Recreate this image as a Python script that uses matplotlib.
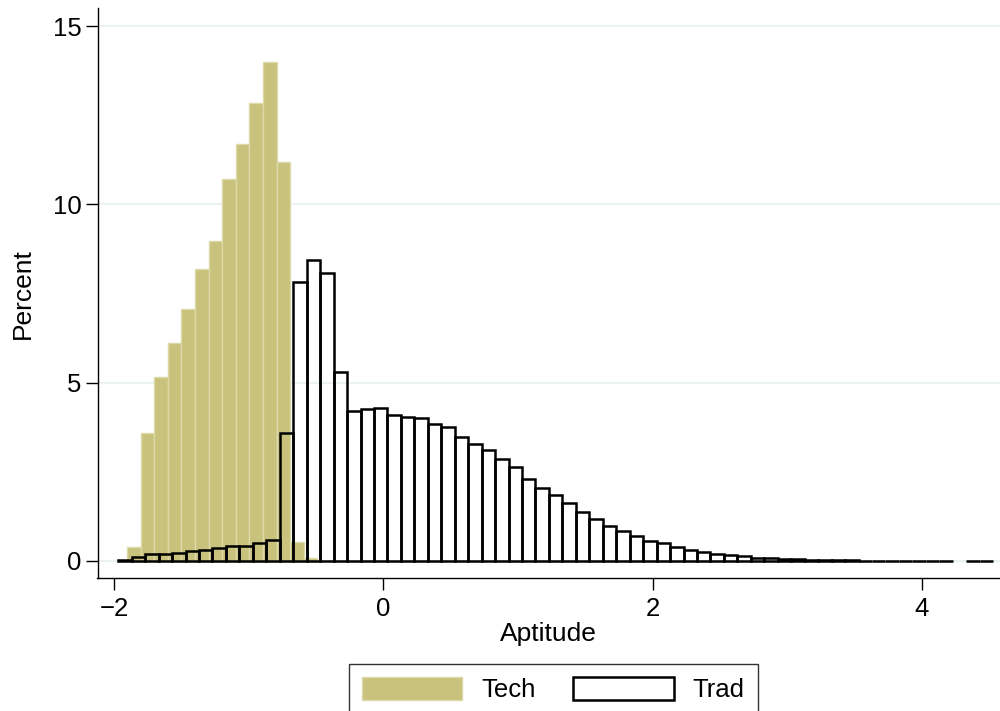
import numpy as np
import matplotlib
matplotlib.use("Agg")
import matplotlib.pyplot as plt
from matplotlib.patches import Patch

plt.rcParams['font.family'] = ['Liberation Sans', 'DejaVu Sans']

# ---- data (percent per bin) ----
tech_bin_start = -1.905
tech_bin_width = 0.101
tech_pct = [0.38, 3.57, 5.15, 6.12, 7.05, 8.17, 8.97, 10.71, 11.68, 12.84,
            13.99, 11.19, 0.53, 0.09]

trad_bin_start = -1.97
trad_bin_width = 0.1
trad_pct = [0.01, 0.10, 0.18, 0.18, 0.22, 0.27, 0.29, 0.35, 0.40, 0.42,
            0.50, 0.58, 3.57, 7.82, 8.44, 8.07, 5.30, 4.19, 4.25, 4.28,
            4.09, 4.04, 4.00, 3.83, 3.74, 3.46, 3.28, 3.11, 2.86, 2.62,
            2.30, 2.04, 1.85, 1.61, 1.36, 1.16, 0.98, 0.84, 0.70, 0.55,
            0.49, 0.39, 0.29, 0.25, 0.19, 0.15, 0.12, 0.09, 0.07, 0.05,
            0.04, 0.03, 0.02, 0.012, 0.009, 0.007, 0.005, 0.004, 0.003, 0.003,
            0.002, 0.002, 0.0, 0.002, 0.002]

x_ticks = [-2, 0, 2, 4]
y_ticks = [0, 5, 10, 15]
legend_labels = ["Tech", "Trad"]

tech_fill = "#C8C27D"
tech_edge = "#DDD9A8"
grid_col = "#EAF2F3"

fig = plt.figure(figsize=(10, 7.11), dpi=100)
ax = fig.add_axes([0.0975, 0.187, 0.9025, 0.8015])

for yv in y_ticks:
    ax.axhline(yv, color=grid_col, lw=1.5, zorder=0)

tech_edges = tech_bin_start + tech_bin_width * np.arange(len(tech_pct))
ax.bar(tech_edges, tech_pct, width=tech_bin_width, align='edge',
       color=tech_fill, edgecolor=tech_edge, linewidth=1.0, zorder=2)

trad_vals = np.array(trad_pct)
trad_edges = trad_bin_start + trad_bin_width * np.arange(len(trad_vals))
mask = trad_vals > 0
ax.bar(trad_edges[mask], trad_vals[mask], width=trad_bin_width, align='edge',
       facecolor='none', edgecolor='black', linewidth=1.8, zorder=3)

ax.set_xlim(-2.124, 4.581)
ax.set_ylim(-0.485, 15.50)
ax.set_xticks(x_ticks)
ax.set_xticklabels(["\u22122", "0", "2", "4"])
ax.set_yticks(y_ticks)
ax.tick_params(axis='both', labelsize=18.5, length=8.5, width=1.0,
               direction='out', color='black')
ax.tick_params(axis='x', pad=5)
ax.tick_params(axis='y', pad=3)
for s in ['top', 'right']:
    ax.spines[s].set_visible(False)
for s in ['left', 'bottom']:
    ax.spines[s].set_linewidth(1.0)

ax.set_xlabel("Aptitude", fontsize=19, labelpad=1)
ax.set_ylabel("Percent", fontsize=19, labelpad=13)

handles = [Patch(facecolor=tech_fill, edgecolor=tech_edge, linewidth=1.0),
           Patch(facecolor='white', edgecolor='black', linewidth=1.8)]
leg = fig.legend(handles, legend_labels, loc='upper center',
                 bbox_to_anchor=(0.5535, 1 - 664 / 711), ncol=2,
                 fontsize=18.5, frameon=True, fancybox=False,
                 handlelength=3.9, handleheight=1.0, handletextpad=0.75,
                 columnspacing=1.45, borderpad=0.5, borderaxespad=0.0)
leg.get_frame().set_edgecolor('black')
leg.get_frame().set_linewidth(1.0)

fig.savefig("out.png", dpi=100)
